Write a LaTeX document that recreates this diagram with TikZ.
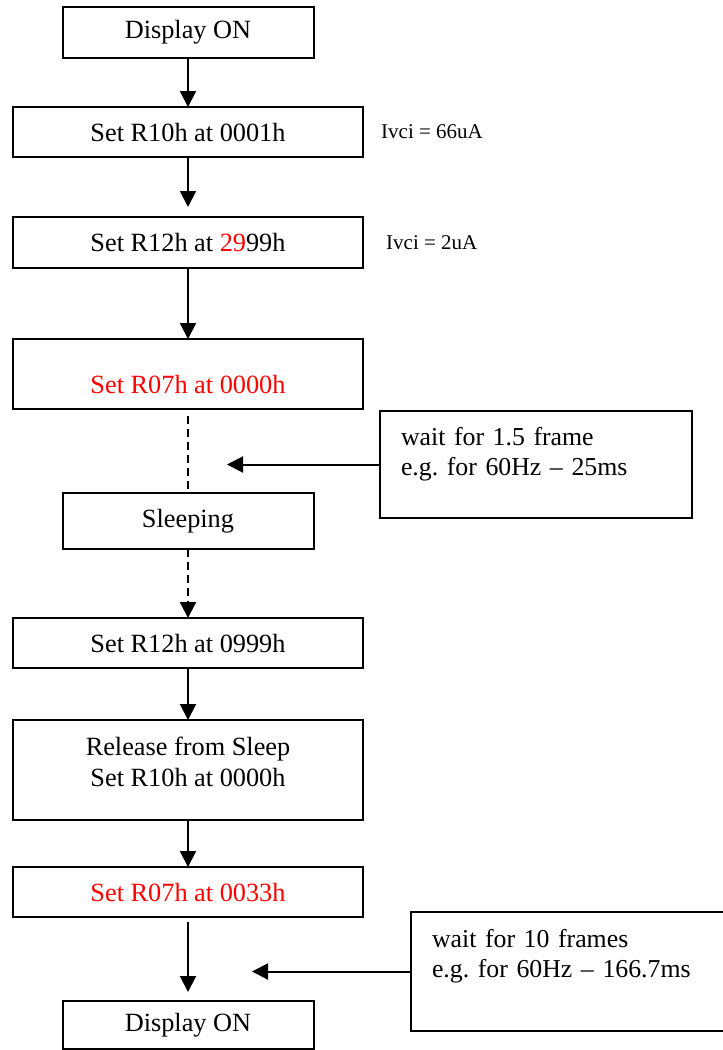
\documentclass[tikz,border=0pt]{standalone}
\usepackage{fontspec}
\setmainfont{Liberation Serif}
\usetikzlibrary{arrows.meta, positioning}
\definecolor{regred}{RGB}{255,0,0}

\begin{document}
\begin{tikzpicture}[
    stepbox/.style={draw, line width=2pt, outer sep=0pt, inner sep=2pt, minimum width=350pt, minimum height=50pt, align=center, font=\fontsize{26.3}{31}\selectfont},
    shortbox/.style={stepbox, minimum width=251pt},
    notebox/.style={draw, line width=2pt, outer sep=0pt, inner ysep=2pt, inner xsep=21pt, align=left, text height=18pt, font=\fontsize{25.8}{30}\selectfont},
    lbl/.style={inner sep=0pt, font=\fontsize{21}{24}\selectfont},
    flow/.style={-{Triangle[length=16pt, width=16pt]}, line width=2pt},
    waitflow/.style={flow, dash pattern=on 8pt off 5pt}
]
    \useasboundingbox (0pt,0pt) rectangle (723pt,-1050pt);

    \node[shortbox, minimum height=51pt] (on1) at (188pt,-32.5pt) {Display ON};
    \node[stepbox, below=49pt of on1] (r10a) {Set R10h at 0001h};
    \node[stepbox, minimum height=51pt, below=60pt of r10a] (r12a) {Set R12h at \textcolor{regred}{29}99h};
    \node[stepbox, minimum height=70pt, text height=44pt, text depth=6pt, text=regred, below=71pt of r12a] (r07a) {Set R07h at 0000h};
    \node[shortbox, minimum height=56pt, below=84pt of r07a] (sleep) {Sleeping};
    \node[stepbox, below=69pt of sleep] (r12b) {Set R12h at 0999h};
    \node[stepbox, minimum height=100pt, text height=49pt, text depth=17pt, below=52pt of r12b] (release) {Release from Sleep\\Set R10h at 0000h};
    \node[stepbox, text=regred, below=47pt of release] (r07b) {Set R07h at 0033h};
    \node[shortbox, minimum height=48pt, below=84pt of r07b] (on2) {Display ON};

    \node[lbl, anchor=west, right=18pt of r10a] (ivci1) {Ivci = 66uA};
    \node[lbl, anchor=west, right=23pt of r12a] (ivci2) {Ivci = 2uA};

    \node[notebox, text width=270pt, minimum height=107pt, text depth=57pt] (waitA) at (536pt,-464.5pt) {wait for 1.5 frame\\e.g.\ for 60Hz -- 25ms};
    \node[notebox, text width=273pt, minimum height=119pt, text depth=67pt] (waitB) at (568.5pt,-971.5pt) {wait for 10 frames\\e.g.\ for 60Hz -- 166.7ms};
    \coordinate[left=153pt of waitA.west] (endA);
    \coordinate[left=159pt of waitB.west] (endB);

    \draw[flow] (on1.south) -- (r10a.north);
    \draw[flow, shorten >=10pt] (r10a.south) -- (r12a.north);
    \draw[flow] (r12a.south) -- (r07a.north);
    \draw[waitflow, -, shorten <=7pt] (r07a.south) -- (sleep.north);
    \draw[waitflow] (sleep.south) -- (r12b.north);
    \draw[flow] (r12b.south) -- (release.north);
    \draw[flow] (release.south) -- (r07b.north);
    \draw[flow, shorten <=5pt, shorten >=9pt] (r07b.south) -- (on2.north);

    \draw[flow] (waitA.west) -- (endA);
    \draw[flow] (waitB.west) -- (endB);
\end{tikzpicture}
\end{document}
